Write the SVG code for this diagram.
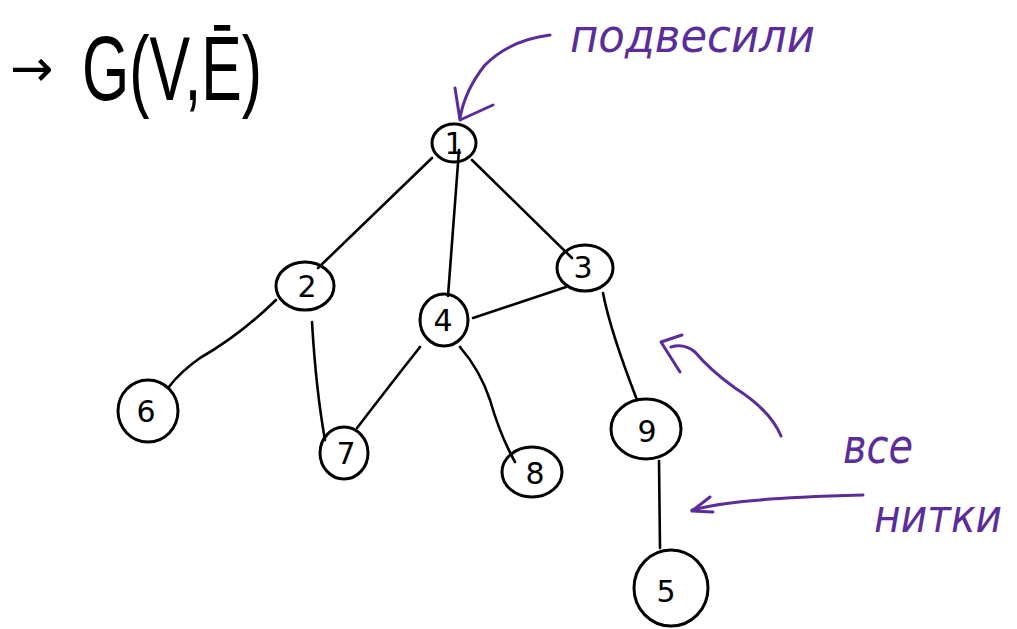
<svg xmlns="http://www.w3.org/2000/svg" width="1017" height="629" viewBox="0 0 1017 629">
<style>
.n{fill:none;stroke:#000;stroke-width:3;}
.t{font-family:"DejaVu Sans","Liberation Sans",sans-serif;font-size:30px;fill:#000;text-anchor:middle;}
.e{fill:none;stroke:#000;stroke-width:2.6;stroke-linecap:round;}
.p{fill:none;stroke:#5a2d9a;stroke-width:3;stroke-linecap:round;stroke-linejoin:round;}
.pt{font-family:"DejaVu Sans","Liberation Sans",sans-serif;fill:#5a2d9a;font-style:italic;}
</style>
<rect width="1017" height="629" fill="#fff"/>
<g id="title">
<text x="10" y="86" font-family="DejaVu Sans, sans-serif" font-size="52" fill="#000">→</text>
<text x="82" y="100" font-family="Liberation Sans, sans-serif" font-size="90" fill="#000" textLength="180" lengthAdjust="spacingAndGlyphs">G(V,Ē)</text>
</g>
<g id="connectors">
<path class="e" d="M432 158 L318 268"/>
<path class="e" d="M459 150 L448 296"/>
<path class="e" d="M472 160 L572 258"/>
<path class="e" d="M276 300 Q240 335 200 358 Q180 372 168 388"/>
<path class="e" d="M312 322 Q316 390 325 440"/>
<path class="e" d="M473 318 L566 287"/>
<path class="e" d="M420 347 Q390 385 357 428"/>
<path class="e" d="M460 347 Q480 370 490 400 Q500 435 515 462"/>
<path class="e" d="M603 293 Q610 330 637 400"/>
<path class="e" d="M659 461 L660 548"/>
</g>
<g id="node1"><ellipse class="n" cx="454" cy="143" rx="22" ry="19"/><text class="t" x="454" y="154">1</text></g>
<g id="node2"><ellipse class="n" cx="305" cy="286" rx="29" ry="24"/><text class="t" x="307" y="297">2</text></g>
<g id="node3"><ellipse class="n" cx="585" cy="268" rx="28" ry="23"/><text class="t" x="583" y="278">3</text></g>
<g id="node4"><ellipse class="n" cx="444" cy="320" rx="24" ry="26"/><text class="t" x="443" y="331">4</text></g>
<g id="node6"><ellipse class="n" cx="148" cy="411" rx="30" ry="31"/><text class="t" x="146" y="422">6</text></g>
<g id="node7"><ellipse class="n" cx="344" cy="453" rx="24" ry="26"/><text class="t" x="346" y="464">7</text></g>
<g id="node8"><ellipse class="n" cx="532" cy="472" rx="30" ry="25"/><text class="t" x="535" y="484">8</text></g>
<g id="node9"><ellipse class="n" cx="646" cy="429" rx="35" ry="30"/><text class="t" x="647" y="442">9</text></g>
<g id="node5"><ellipse class="n" cx="671" cy="588" rx="37" ry="38"/><text class="t" x="666" y="602" font-size="38">5</text></g>
<g id="annotations">
<path class="p" d="M550 35 Q510 40 485 65 Q465 90 460 118"/>
<path class="p" d="M455 88 L460 120 L493 105"/>
<path class="p" d="M781 436 Q770 410 735 388 Q710 370 695 352 Q684 343 671 347"/>
<path class="p" d="M682 335 L661 342 L680 372"/>
<path class="p" d="M863 495 Q790 497 760 500 Q720 503 692 510"/>
<path class="p" d="M710 497 L692 511 L713 512"/>
<text class="pt" x="570" y="52" font-size="46" textLength="245" lengthAdjust="spacingAndGlyphs">подвесили</text>
<text class="pt" x="843" y="463" font-size="48" textLength="70" lengthAdjust="spacingAndGlyphs">все</text>
<text class="pt" x="874" y="532" font-size="46" textLength="128" lengthAdjust="spacingAndGlyphs">нитки</text>
</g>
</svg>
